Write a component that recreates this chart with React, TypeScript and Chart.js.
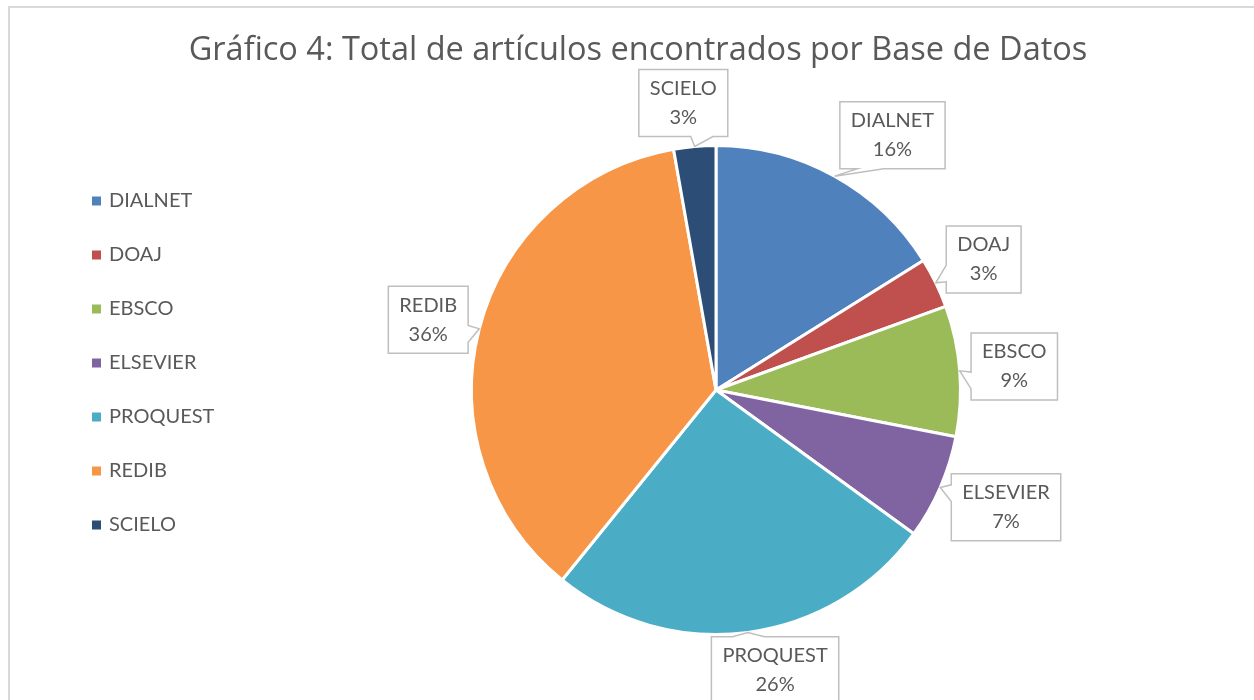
import React, { useEffect, useRef } from "react";
import { Chart, registerables } from "chart.js";

Chart.register(...registerables);

// ---- data ----
const categories = ["DIALNET", "DOAJ", "EBSCO", "ELSEVIER", "PROQUEST", "REDIB", "SCIELO"];
const articleCounts = [58, 12, 31, 25, 93, 131, 10];
const sliceColors = ["#4F81BD", "#C0504D", "#9BBB59", "#8064A2", "#4BACC6", "#F79646", "#2C4D75"];
const titleText = "Gráfico 4: Total de artículos encontrados por Base de Datos";

// ---- layout tweaks for the callout labels ----
const labelAngleNudgeDeg = [5.7, 0, 0, -1.5, -4.4, -0.8, -1.5];
const labelGapAdjust = [0, -3, 1, -3, -12, -3, -2];

const FONT = "Lato, 'Open Sans', sans-serif";
const TITLE_FONT = "'Open Sans', Lato, sans-serif";
const TEXT_COLOR = "#595959";

function drawCallout(
  ctx: CanvasRenderingContext2D,
  l: number,
  t: number,
  w: number,
  h: number,
  px: number,
  py: number
) {
  const r = l + w;
  const b = t + h;
  const hc = l + w / 2;
  const vc = t + h / 2;
  const dxPos = px - hc;
  const dyPos = py - vc;
  const horiz = Math.abs(dxPos * h) > Math.abs(dyPos * w);
  const xb1 = l + (w * (dxPos > 0 ? 7 : 2)) / 12;
  const xb2 = l + (w * (dxPos > 0 ? 10 : 5)) / 12;
  const yb1 = t + (h * (dyPos > 0 ? 7 : 2)) / 12;
  const yb2 = t + (h * (dyPos > 0 ? 10 : 5)) / 12;
  ctx.beginPath();
  ctx.moveTo(l, t);
  if (!horiz && dyPos < 0) {
    ctx.lineTo(xb1, t);
    ctx.lineTo(px, py);
    ctx.lineTo(xb2, t);
  }
  ctx.lineTo(r, t);
  if (horiz && dxPos > 0) {
    ctx.lineTo(r, yb1);
    ctx.lineTo(px, py);
    ctx.lineTo(r, yb2);
  }
  ctx.lineTo(r, b);
  if (!horiz && dyPos > 0) {
    ctx.lineTo(xb2, b);
    ctx.lineTo(px, py);
    ctx.lineTo(xb1, b);
  }
  ctx.lineTo(l, b);
  if (horiz && dxPos < 0) {
    ctx.lineTo(l, yb2);
    ctx.lineTo(px, py);
    ctx.lineTo(l, yb1);
  }
  ctx.closePath();
  ctx.fillStyle = "#ffffff";
  ctx.fill();
  ctx.lineWidth = 1.5;
  ctx.strokeStyle = "#bfbfbf";
  ctx.stroke();
}

const decorPlugin = {
  id: "decor",
  afterDraw(chart: any) {
    const ctx: CanvasRenderingContext2D = chart.ctx;
    ctx.save();

    // Title
    ctx.fillStyle = TEXT_COLOR;
    ctx.font = `32.5px ${TITLE_FONT}`;
    ctx.textAlign = "center";
    ctx.textBaseline = "middle";
    ctx.fillText(titleText, 638, 51);

    // Legend
    ctx.font = `20px ${FONT}`;
    ctx.textAlign = "left";
    categories.forEach((c, i) => {
      const y = 201 + i * 54;
      ctx.fillStyle = sliceColors[i];
      ctx.fillRect(92, y - 4.5, 9, 9);
      ctx.fillStyle = TEXT_COLOR;
      ctx.fillText(c, 109, y);
    });

    // Callout data labels
    const meta = chart.getDatasetMeta(0);
    const values: number[] = chart.data.datasets[0].data;
    const total = values.reduce((a, v) => a + v, 0);
    ctx.font = `20px ${FONT}`;
    meta.data.forEach((el: any, i: number) => {
      const { x, y, startAngle, endAngle, outerRadius } = el.getProps(
        ["x", "y", "startAngle", "endAngle", "outerRadius"],
        true
      );
      const mid = (startAngle + endAngle) / 2;
      const tx = x + Math.cos(mid) * outerRadius;
      const ty = y + Math.sin(mid) * outerRadius;
      const a = mid + (labelAngleNudgeDeg[i] * Math.PI) / 180;
      const ux = Math.cos(a);
      const uy = Math.sin(a);
      const name = String(chart.data.labels[i]);
      const pct = Math.round((values[i] / total) * 100) + "%";
      const tw = Math.max(ctx.measureText(name).width, ctx.measureText(pct).width);
      const w = tw + 22;
      const h = 67;
      const ext = (Math.abs(ux) * w) / 2 + (Math.abs(uy) * h) / 2;
      const D = outerRadius + 8 + labelGapAdjust[i] + ext;
      const cx = x + ux * D;
      const cy = y + uy * D;
      drawCallout(ctx, cx - w / 2, cy - h / 2, w, h, tx, ty);
      ctx.fillStyle = TEXT_COLOR;
      ctx.textAlign = "center";
      ctx.textBaseline = "middle";
      ctx.fillText(name, cx, cy - 14.5);
      ctx.fillText(pct, cx, cy + 14.5);
    });

    ctx.restore();
  },
};

export default function App() {
  const ref = useRef<HTMLCanvasElement>(null);
  useEffect(() => {
    const chart = new Chart(ref.current as HTMLCanvasElement, {
      type: "pie",
      data: {
        labels: categories,
        datasets: [
          {
            data: articleCounts,
            backgroundColor: sliceColors,
            borderColor: "#ffffff",
            borderWidth: 3,
          },
        ],
      },
      options: {
        responsive: false,
        animation: false,
        layout: { padding: { top: 144, bottom: 64, left: 470, right: 292 } },
        plugins: {
          legend: { display: false },
          title: { display: false },
          tooltip: { enabled: false },
        },
      },
      plugins: [decorPlugin],
    } as any);
    return () => chart.destroy();
  }, []);
  return (
    <div style={{ position: "fixed", left: 0, top: 0, width: 1254, height: 700, overflow: "hidden", background: "#fff" }}>
      <div
        style={{
          position: "absolute",
          left: 8,
          top: 6,
          width: 1400,
          height: 900,
          borderTop: "2px solid #d9d9d9",
          borderLeft: "2px solid #d9d9d9",
        }}
      />
      <canvas ref={ref} width={1254} height={700} style={{ position: "absolute", left: 0, top: 0 }} />
    </div>
  );
}
